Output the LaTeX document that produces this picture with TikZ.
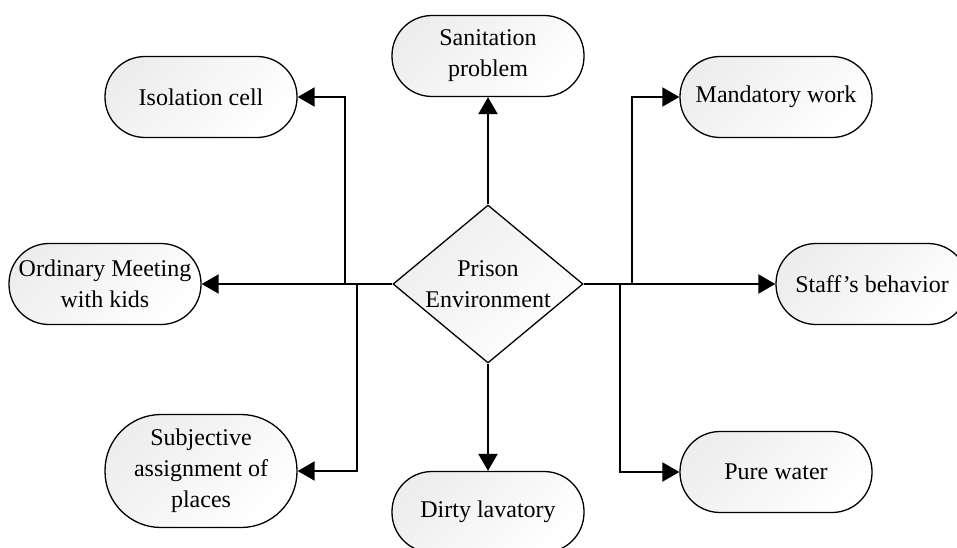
\documentclass[tikz,border=0pt]{standalone}
\usepackage{fontspec}
\setmainfont{Liberation Serif}
\usetikzlibrary{shapes.geometric,arrows.meta}

\begin{document}
\begin{tikzpicture}[x=1pt,y=-1pt,font=\fontsize{24}{31}\selectfont,
  box/.style={draw, line width=1.3pt, rounded corners=40pt, minimum width=192pt, minimum height=81pt,
    inner sep=0pt, align=center, top color=black!7, bottom color=white, shading angle=45},
  link/.style={line width=2pt, -{Triangle[length=17pt,width=19pt]}}]
  \useasboundingbox (0,0) rectangle (957,548);
  % centre
  \node[diamond, draw, line width=1.3pt, minimum width=190pt, minimum height=158pt, inner sep=0pt,
    top color=black!7, bottom color=white, shading angle=45] (env) at (488,284) {};
  \node[align=center, inner sep=0pt] (envtext) at (env.center) {Prison\\Environment};
  % outcomes
  \node[box] (san) at (488,56) {Sanitation\\problem};
  \node[box] (lav) at (488,512) {Dirty lavatory};
  \node[box] (iso) at (201,97) {Isolation cell};
  \node[box] (ord) at (105,284) {Ordinary Meeting\\with kids};
  \node[box, minimum height=113pt, rounded corners=56pt] (sub) at (201,471) {Subjective\\assignment of\\places};
  \node[box] (man) at (776,97) {Mandatory work};
  \node[box] (staff) at (872,284) {Staff’s behavior};
  \node[box] (pure) at (776,472) {Pure water};
  \coordinate (jiso) at (345,284);
  \coordinate (jsub) at (357,284);
  \coordinate (jman) at (632,284);
  \coordinate (jpure) at (620,284);
  \draw[link] (env.north) -- (san.south);
  \draw[link] (env.south) -- (lav.north);
  \draw[link] (env.west) -- (ord.east);
  \draw[link] (env.east) -- (staff.west);
  \draw[link] (jiso) |- (iso.east);
  \draw[link] (jsub) |- (sub.east);
  \draw[link] (jman) |- (man.west);
  \draw[link] (jpure) |- (pure.west);
\end{tikzpicture}
\end{document}
